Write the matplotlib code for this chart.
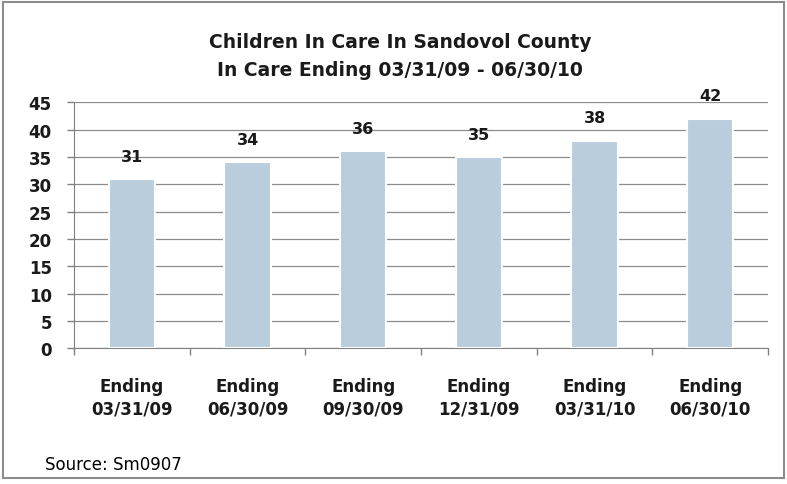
import matplotlib.pyplot as plt
import numpy as np
from matplotlib.patches import Rectangle

plt.rcParams['font.family'] = ['DejaVu Sans']

#data
categories = ["Ending\n03/31/09", "Ending\n06/30/09", "Ending\n09/30/09",
              "Ending\n12/31/09", "Ending\n03/31/10", "Ending\n06/30/10"]
children = [31, 34, 36, 35, 38, 42]
yticks = [0, 5, 10, 15, 20, 25, 30, 35, 40, 45]

fig = plt.figure(figsize=(7.87, 4.85), dpi=100)
fig.patches.append(Rectangle((0.004, 0.012), 0.992, 0.982, transform=fig.transFigure,
                             fill=False, edgecolor="#8c8c8c", linewidth=1.5))
ax = fig.add_axes([0.094, 0.280, 0.882, 0.507])

x = np.arange(len(categories))
bars = ax.bar(x, children, width=0.4, color="#b9cddd", edgecolor="white",
              linewidth=1.5, zorder=3)
for xi, v in zip(x, children):
    ax.text(xi, v + 2.8, str(v), ha="center", va="bottom", fontsize=11.5,
            fontweight="bold", color="#1a1a1a")

ax.set_xlim(-0.5, len(categories) - 0.5)
ax.set_ylim(0, 45)
ax.set_yticks(yticks)
ax.tick_params(axis="y", labelsize=12, length=5, color="#808080", width=1,
               labelcolor="#1a1a1a", pad=11)
for lab in ax.get_yticklabels():
    lab.set_fontweight("bold")
ax.set_xticks(np.arange(len(categories) + 1) - 0.5, minor=False)
ax.set_xticklabels([""] * (len(categories) + 1))
ax.tick_params(axis="x", length=5, color="#808080", width=1)
ax.set_xticks(x, minor=True)
ax.set_xticklabels(categories, minor=True, fontsize=12, fontweight="bold",
                   color="#1a1a1a")
ax.tick_params(axis="x", which="minor", length=0, pad=21)
for lab in ax.get_xticklabels(minor=True):
    lab.set_linespacing(1.3)

ax.grid(True, axis="y", color="#8c8c8c", linewidth=0.9, zorder=0)
ax.set_axisbelow(True)
for s in ["top", "right"]:
    ax.spines[s].set_visible(False)
for s in ["left", "bottom"]:
    ax.spines[s].set_color("#808080")

fig.text(0.508, 0.913, "Children In Care In Sandovol County", ha="center",
         va="center", fontsize=13.5, fontweight="bold", color="#1a1a1a")
fig.text(0.508, 0.855, "In Care Ending 03/31/09 - 06/30/10", ha="center",
         va="center", fontsize=13.5, fontweight="bold", color="#1a1a1a")
fig.text(0.057, 0.041, "Source: Sm0907", ha="left", va="center", fontsize=12)

plt.savefig("out.png", dpi=100)
